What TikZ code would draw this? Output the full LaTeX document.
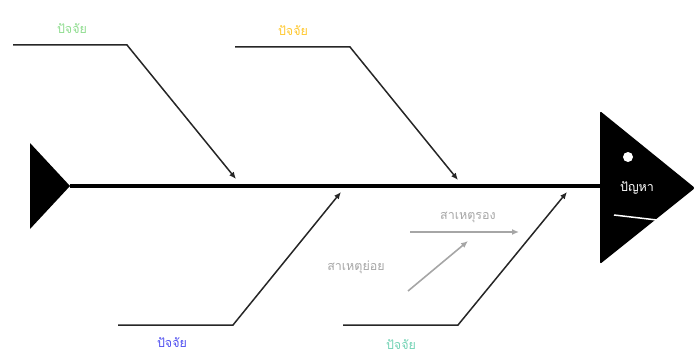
\documentclass[tikz,border=0pt]{standalone}
\usepackage{fontspec}
\newfontfamily\thaifont[Script=Thai]{Loma}
\usetikzlibrary{arrows.meta}
\definecolor{cgreen}{HTML}{8EDC8E}
\definecolor{corange}{HTML}{FFC72C}
\definecolor{cblue}{HTML}{4F4FEF}
\definecolor{cteal}{HTML}{72D2B4}
\definecolor{cgray}{HTML}{A6A6A6}
\tikzset{
  bone/.style={line width=1.5pt, draw=black!85, -{Latex[length=7pt,width=6pt]}},
  sub/.style={line width=1.6pt, draw=cgray, -{Latex[length=7pt,width=6pt]}},
  lbl/.style={font=\thaifont\fontsize{12.5}{14}\selectfont, inner sep=0pt},
}
\begin{document}
\begin{tikzpicture}[x=1pt,y=-1pt]
\useasboundingbox (0,0) rectangle (699,361);
% spine
\coordinate (tailtip) at (70,186);
\coordinate (headbase) at (600,186);
\draw[line width=3.2pt] (tailtip) -- (headbase);
% tail
\fill (30,143) -- (70,186) -- (30,229) -- cycle;
% head
\fill[rounded corners=2pt] (600,111) -- (695,188) -- (600,264) -- cycle;
\fill[white] (628,157) circle (5);
\node[lbl, text=white] (prob) at (637,188) {ปัญหา};
\draw[white, line width=1.5pt] (614,215) coordinate (m1) -- (657,220) coordinate (m2);
% top bones
\coordinate (b1s) at (13,45); \coordinate (b1k) at (127,45); \coordinate (b1e) at (236,179);
\draw[bone] (b1s) -- (b1k) -- (b1e);
\node[lbl, text=cgreen] (l1) at (72,29) {ปัจจัย};
\coordinate (b2s) at (235,47); \coordinate (b2k) at (350,47); \coordinate (b2e) at (458,180);
\draw[bone] (b2s) -- (b2k) -- (b2e);
\node[lbl, text=corange] (l2) at (293,31) {ปัจจัย};
% bottom bones
\coordinate (b3s) at (118,325); \coordinate (b3k) at (233,325); \coordinate (b3e) at (341,192);
\draw[bone] (b3s) -- (b3k) -- (b3e);
\node[lbl, text=cblue] (l3) at (172,343) {ปัจจัย};
\coordinate (b4s) at (343,325); \coordinate (b4k) at (458,325); \coordinate (b4e) at (567,192);
\draw[bone] (b4s) -- (b4k) -- (b4e);
\node[lbl, text=cteal] (l4) at (401,345) {ปัจจัย};
% sub causes
\coordinate (s1s) at (410,232); \coordinate (s1e) at (519,232);
\draw[sub] (s1s) -- (s1e);
\node[lbl, text=cgray] (l5) at (468,217) {สาเหตุรอง};
\coordinate (s2s) at (408,291); \coordinate (s2e) at (468,241);
\draw[sub] (s2s) -- (s2e);
\node[lbl, text=cgray] (l6) at (356,267) {สาเหตุย่อย};
\end{tikzpicture}
\end{document}
